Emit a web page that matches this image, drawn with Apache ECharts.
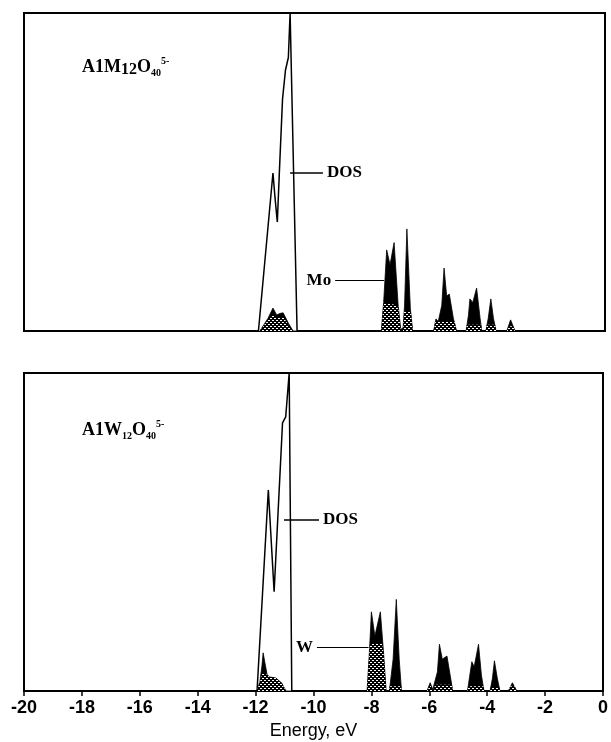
<!DOCTYPE html>
<html>
<head>
<meta charset="utf-8">
<script src="https://cdn.jsdelivr.net/npm/echarts@6/dist/echarts.min.js"></script>
<style>
html, body { margin: 0; padding: 0; background: #fff; }
#chart { width: 611px; height: 742px; }
</style>
</head>
<body>
<div id="chart"></div>
<script>
// energy (eV), intensity (0..100 of panel height)
var moDos = [[-11.93, 0], [-11.43, 49.7], [-11.36, 42], [-11.28, 34.3], [-11.2, 52], [-11.1, 73],
  [-11.0, 82], [-10.9, 86], [-10.84, 100], [-10.6, 0]];
var moPeaks = [[-11.88, 0], [-11.6, 4], [-11.43, 7.2], [-11.3, 5], [-11.2, 5.5], [-11.08, 5.7],
  [-10.9, 2.5], [-10.74, 0],
  [-7.70, 0], [-7.62, 9], [-7.515, 25.5], [-7.40, 20.8], [-7.26, 27.8], [-7.12, 8], [-7.03, 0.5], [-6.95, 1],
  [-6.90, 8], [-6.82, 32.1], [-6.70, 7], [-6.62, 0],
  [-5.90, 0], [-5.82, 3.8], [-5.74, 3], [-5.62, 8], [-5.54, 19.8], [-5.45, 11], [-5.36, 11.6], [-5.22, 4], [-5.11, 0],
  [-4.78, 0], [-4.70, 5], [-4.65, 10.1], [-4.55, 9], [-4.42, 13.5], [-4.30, 4], [-4.24, 0],
  [-4.10, 0], [-4.02, 4], [-3.93, 10.1], [-3.84, 4], [-3.75, 0],
  [-3.38, 0], [-3.25, 3.5], [-3.10, 0]];
var moStipple = [[-11.88, 0], [-11.6, 3.5], [-11.43, 5], [-11.3, 4], [-11.08, 4.5], [-10.9, 2], [-10.74, 0],
  [-7.70, 0], [-7.62, 9], [-7.12, 8], [-7.03, 0],
  [-6.95, 0], [-6.92, 6], [-6.68, 6], [-6.62, 0],
  [-5.90, 0], [-5.84, 3], [-5.18, 3], [-5.11, 0],
  [-4.78, 0], [-4.76, 2], [-4.27, 2], [-4.24, 0],
  [-4.10, 0], [-4.07, 2], [-3.78, 2], [-3.75, 0],
  [-3.38, 0], [-3.30, 1.5], [-3.15, 1.5], [-3.10, 0]];

var wDos = [[-11.95, 0], [-11.56, 63.2], [-11.36, 31.2], [-11.07, 84.3], [-10.96, 86.2], [-10.84, 100], [-10.75, 0]];
var wPeaks = [[-11.95, 0], [-11.85, 3], [-11.78, 8], [-11.74, 12], [-11.68, 9], [-11.6, 5], [-11.5, 4.4],
  [-11.3, 4.1], [-11.1, 2.5], [-10.95, 0],
  [-8.15, 0], [-8.07, 12], [-8.00, 24.9], [-7.88, 17.3], [-7.69, 24.9], [-7.58, 12], [-7.49, 0],
  [-7.38, 0], [-7.25, 10], [-7.14, 28.8], [-7.04, 10], [-6.96, 0],
  [-6.08, 0], [-5.97, 2.6], [-5.88, 0.5], [-5.82, 0], [-5.72, 6], [-5.65, 14.7], [-5.55, 10], [-5.39, 11.0], [-5.28, 5], [-5.19, 0],
  [-4.68, 0], [-4.60, 5], [-4.53, 9.2], [-4.45, 7.6], [-4.30, 14.7], [-4.20, 5], [-4.11, 0],
  [-3.90, 0], [-3.82, 4], [-3.75, 9.5], [-3.65, 4], [-3.56, 0],
  [-3.27, 0], [-3.13, 2.6], [-2.98, 0]];
var wStipple = [[-11.95, 0], [-11.85, 3], [-11.75, 6], [-11.6, 5], [-11.5, 4.4], [-11.3, 4.1], [-11.1, 2.5], [-10.95, 0],
  [-8.15, 0], [-8.07, 12], [-8.04, 15], [-7.64, 15], [-7.58, 12], [-7.49, 0],
  [-7.38, 0], [-7.37, 1.5], [-6.97, 1.5], [-6.96, 0],
  [-6.08, 0], [-5.97, 2], [-5.88, 0],
  [-5.82, 0], [-5.79, 2], [-5.22, 2], [-5.19, 0],
  [-4.68, 0], [-4.66, 1.5], [-4.13, 1.5], [-4.11, 0],
  [-3.90, 0], [-3.88, 1.2], [-3.58, 1.2], [-3.56, 0],
  [-3.27, 0], [-3.20, 1.5], [-3.05, 1.5], [-2.98, 0]];

// leader lines: [from, to]
var moDosLeader = [[-10.84, 49.7], [-9.71, 49.7]];
var moLeader = [[-9.29, 16], [-7.6, 16]];
var wDosLeader = [[-11.02, 53.8], [-9.81, 53.8]];
var wLeader = [[-9.88, 13.8], [-8.1, 13.8]];

var serif = "'Liberation Serif', 'Times New Roman', serif";
var sans = "'Liberation Sans', Arial, sans-serif";

// 点状填充
function stipple() {
    var c = document.createElement('canvas');
    c.width = 4; c.height = 4;
    var ctx = c.getContext('2d');
    ctx.fillStyle = '#000';
    ctx.fillRect(0, 0, 4, 4);
    ctx.fillStyle = '#fff';
    ctx.fillRect(0, 0, 2, 1);
    ctx.fillRect(2, 2, 2, 1);
    return c;
}
var dots = { image: stipple(), repeat: 'repeat' };

function leader(pts, text, pos, width) {
    return {
        silent: true,
        symbol: 'none',
        animation: false,
        lineStyle: { color: '#000', width: width, type: 'solid' },
        label: {
            show: true, position: pos, formatter: text, distance: 4,
            color: '#000', fontFamily: serif, fontWeight: 'bold', fontSize: 17
        },
        data: [[{ coord: pts[0] }, { coord: pts[1] }]]
    };
}

function panelSeries(idx, dos, peaks, dotted, dosLeader, mLeader, mName) {
    return [
        {
            type: 'line', xAxisIndex: idx, yAxisIndex: idx, data: dos, symbol: 'none', z: 2,
            lineStyle: { color: '#000', width: 1.5 },
            areaStyle: { color: '#fff', opacity: 1 },
            markLine: leader(dosLeader, 'DOS', 'end', 1.5)
        },
        {
            type: 'line', xAxisIndex: idx, yAxisIndex: idx, data: peaks, symbol: 'none', z: 3,
            lineStyle: { color: '#000', width: 0.8 },
            areaStyle: { color: '#000', opacity: 1 },
            markLine: leader(mLeader, mName, 'start', 1)
        },
        {
            type: 'line', xAxisIndex: idx, yAxisIndex: idx, data: dotted, symbol: 'none', z: 4,
            lineStyle: { width: 0 },
            areaStyle: { color: dots, opacity: 1 }
        }
    ];
}

var labelRich = {
    m: { fontFamily: serif, fontWeight: 'bold', fontSize: 18, lineHeight: 22, verticalAlign: 'middle', color: '#000' },
    big: { fontFamily: serif, fontWeight: 'bold', fontSize: 16, lineHeight: 16, verticalAlign: 'bottom', color: '#000' },
    s: { fontFamily: serif, fontWeight: 'bold', fontSize: 10, lineHeight: 10, verticalAlign: 'bottom', color: '#000' },
    p: { fontFamily: serif, fontWeight: 'bold', fontSize: 10, lineHeight: 10, verticalAlign: 'top', color: '#000' }
};

var chart = echarts.init(document.getElementById('chart'));
var option = {
    animation: false,
    title: [
        { left: 82, top: 56, padding: 0, text: '{m|A1M}{big|12}{m|O}{s|40}{p|5-}', textStyle: { rich: labelRich } },
        { left: 82, top: 419, padding: 0, text: '{m|A1W}{s|12}{m|O}{s|40}{p|5-}', textStyle: { rich: labelRich } }
    ],
    grid: [
        { left: 24, width: 581, top: 13, height: 318, show: true, borderColor: '#000', borderWidth: 2 },
        { left: 24, width: 581, top: 373, height: 318, show: true, borderColor: '#000', borderWidth: 2 }
    ],
    xAxis: [
        {
            gridIndex: 0, type: 'value', min: -20, max: 0, interval: 2,
            axisLine: { show: false }, axisTick: { show: false }, axisLabel: { show: false }, splitLine: { show: false }
        },
        {
            gridIndex: 1, type: 'value', min: -20, max: 0, interval: 2,
            name: 'Energy, eV', nameLocation: 'middle', nameGap: 31,
            nameTextStyle: { color: '#000', fontFamily: sans, fontSize: 18 },
            axisLine: { show: true, lineStyle: { color: '#000', width: 2 } },
            axisTick: { show: true, length: 5, lineStyle: { color: '#000', width: 1.5 } },
            axisLabel: { color: '#000', fontFamily: sans, fontWeight: 'bold', fontSize: 18, margin: 8 },
            splitLine: { show: false }
        }
    ],
    yAxis: [
        { gridIndex: 0, type: 'value', min: 0, max: 100, show: false, splitLine: { show: false } },
        { gridIndex: 1, type: 'value', min: 0, max: 100, show: false, splitLine: { show: false } }
    ],
    series: panelSeries(0, moDos, moPeaks, moStipple, moDosLeader, moLeader, 'Mo')
        .concat(panelSeries(1, wDos, wPeaks, wStipple, wDosLeader, wLeader, 'W'))
};
chart.setOption(option);
</script>
</body>
</html>
